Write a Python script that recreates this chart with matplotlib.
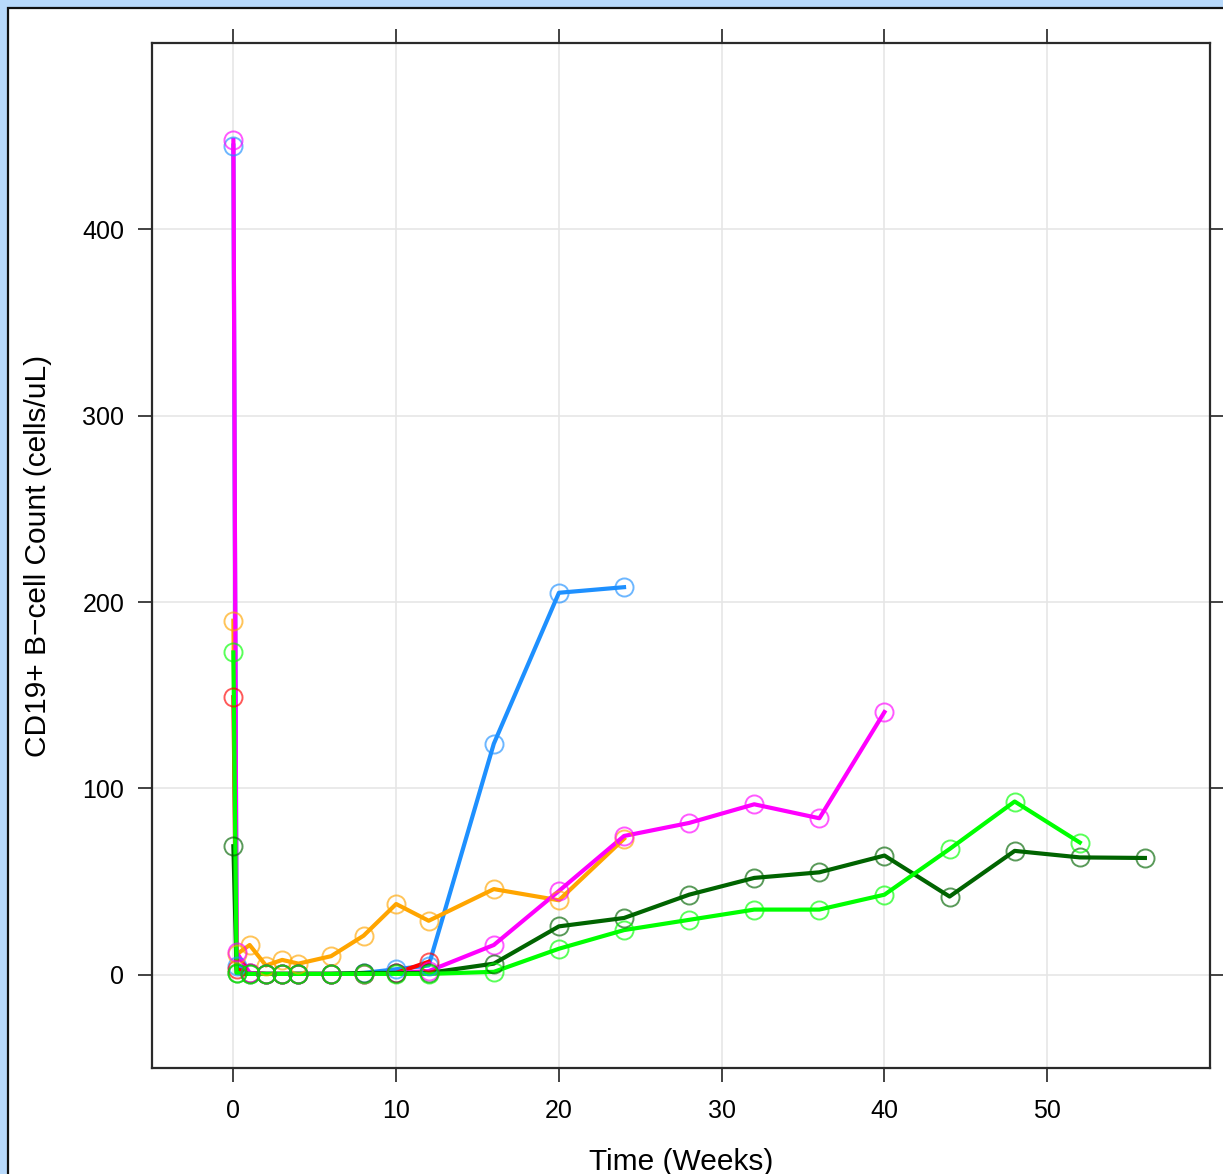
import matplotlib
matplotlib.use("Agg")
import matplotlib.pyplot as plt
from matplotlib.patches import Rectangle

plt.rcParams['font.family'] = ['Liberation Sans', 'DejaVu Sans']

early = [0, 0.2, 1, 2, 3, 4, 6, 8, 10, 12]

blue_x = early + [16, 20, 24]
blue_y = [445, 5, 1, 0.5, 0.5, 0.5, 0.5, 1, 3, 5, 124, 205, 208]

red_x = early
red_y = [149, 3, 1, 0.5, 0.5, 0.5, 0.5, 0.5, 1, 7]

orange_x = early + [16, 20, 24]
orange_y = [190, 11, 16, 5, 8, 6, 10, 21, 38, 29, 46, 40, 73]

magenta_x = early + [16, 20, 24, 28, 32, 36, 40]
magenta_y = [448, 12, 1, 0.5, 0.5, 0.5, 0.5, 0.5, 1, 2, 16, 45, 74.5, 81.5, 91.5, 84, 141]

dkgreen_x = early + [16, 20, 24, 28, 32, 36, 40, 44, 48, 52, 56]
dkgreen_y = [69, 1, 0.5, 0.5, 0.5, 0.5, 0.5, 1, 1, 1, 6, 26, 30.5, 43, 52, 55, 64, 42, 66.5, 63, 62.7]

green_x = early + [16, 20, 24, 28, 32, 36, 40, 44, 48, 52]
green_y = [173, 1, 0.5, 0.5, 0.5, 0.5, 0.5, 0.5, 0.5, 0.5, 1.6, 14, 24, 29.5, 35, 35, 43, 67.5, 93, 71]

series = [
    (blue_x, blue_y, '#1E90FF'),
    (red_x, red_y, '#FF0000'),
    (orange_x, orange_y, '#FFA500'),
    (magenta_x, magenta_y, '#FF00FF'),
    (dkgreen_x, dkgreen_y, '#006400'),
    (green_x, green_y, '#00FF00'),
]

xticks = [0, 10, 20, 30, 40, 50]
yticks = [0, 100, 200, 300, 400]

W, H = 1223, 1174
fig = plt.figure(figsize=(W / 100, H / 100), dpi=100)
fig.patch.set_facecolor('#B8D9FB')
frame = Rectangle((7.5 / W, -0.05), 1.1, 1 - 7.5 / H + 0.05,
                  transform=fig.transFigure, facecolor='white',
                  edgecolor='#111111', linewidth=1.6, zorder=-10)
fig.add_artist(frame)

ax = fig.add_axes([152 / W, 1 - 1068 / H, (1210 - 152) / W, (1068 - 43) / H])
ax.set_zorder(5)
ax.set_xlim(-5, 60)
ax.set_ylim(-50, 500)
ax.set_xticks(xticks)
ax.set_yticks(yticks)
ax.grid(True, color='#E6E6E6', linewidth=1.2)
ax.set_axisbelow(True)

for x, y, c in series:
    ax.plot(x, y, color=c, linewidth=3.0, zorder=3)
    ax.plot(x, y, linestyle='none', marker='o', markersize=13, markerfacecolor='none',
            markeredgecolor=c, markeredgewidth=1.4, alpha=0.65, zorder=4)

for s in ax.spines.values():
    s.set_color('#2a2a2a')
    s.set_linewidth(1.6)

ax.tick_params(axis='both', which='both', direction='out', length=10, width=1.2,
               color='#222222', labelsize=18, top=True, right=True, pad=10)
ax.tick_params(axis='x', pad=12)

ax.set_xlabel('Time (Weeks)', fontsize=21.5, labelpad=18)
ax.set_ylabel('CD19+ B\u2212cell Count (cells/uL)', fontsize=21.5, labelpad=22)

fig.savefig('out.png', dpi=100, facecolor=fig.get_facecolor())
